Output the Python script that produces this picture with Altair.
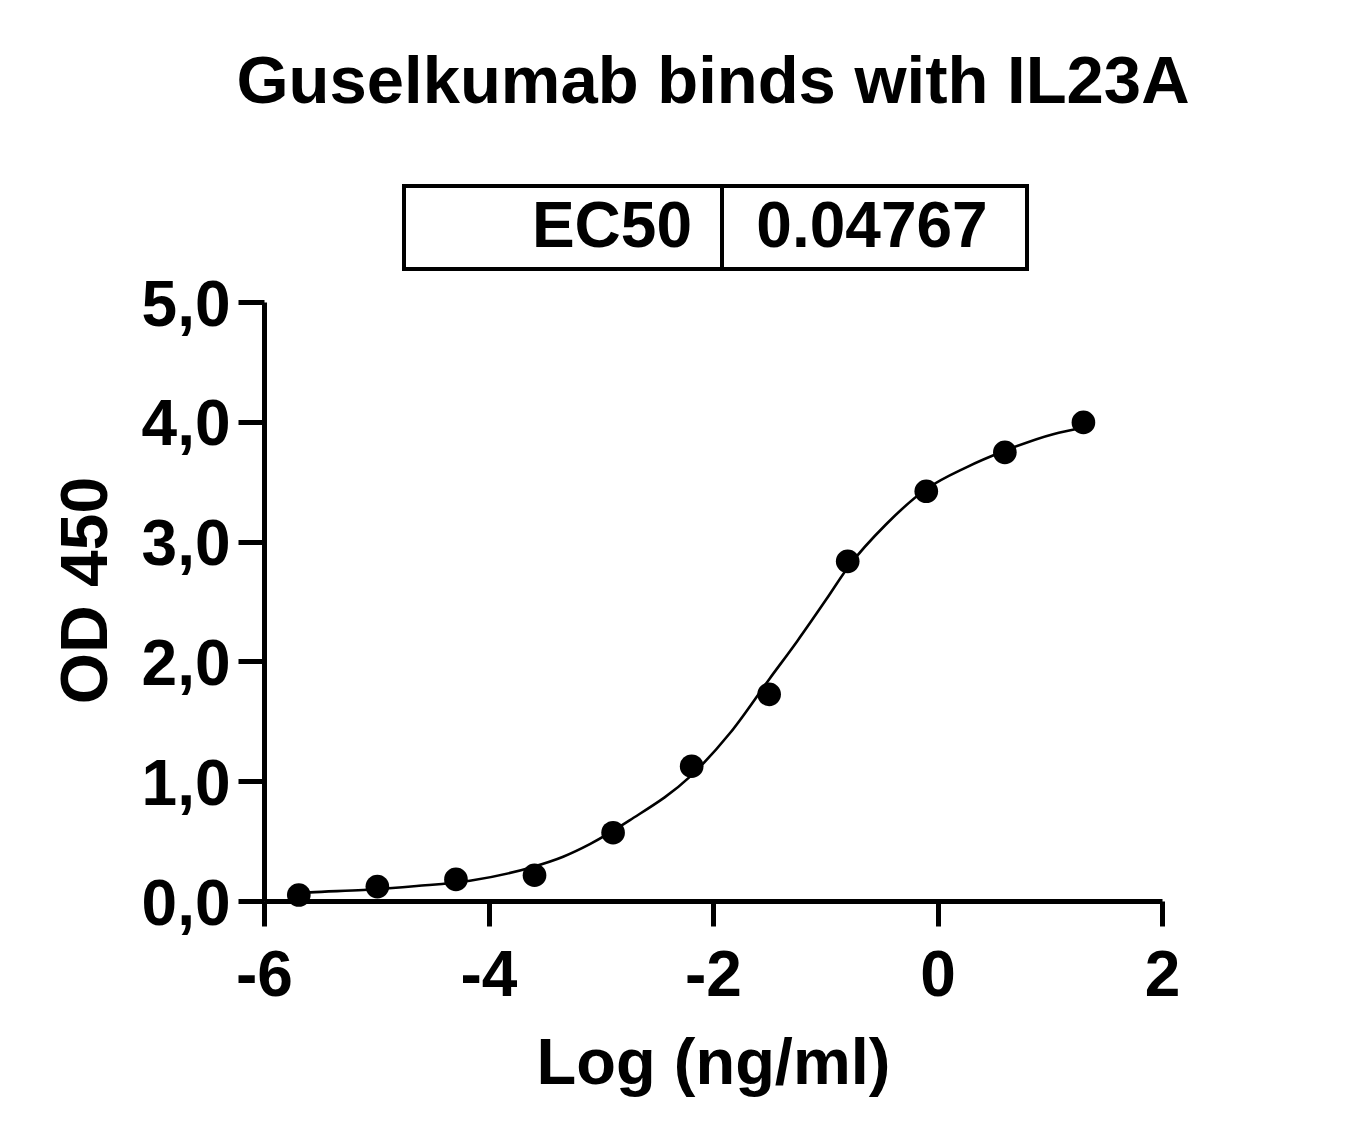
import altair as alt
import pandas as pd

# ---- data ----
log_conc = [-5.69, -4.99, -4.29, -3.59, -2.89, -2.19, -1.50, -0.80, -0.10, 0.60, 1.30]
od450 = [0.05, 0.12, 0.18, 0.215, 0.57, 1.125, 1.725, 2.835, 3.42, 3.745, 3.995]

curve_x = [-5.69, -5.59, -5.116, -4.64, -4.166, -3.63, -3.335, -3.097, -2.74, -2.207,
           -1.85, -1.494, -1.245, -0.989, -0.797, -0.455, -0.099, 0.257, 0.599, 1.03, 1.30]
curve_y = [0.066, 0.072, 0.092, 0.125, 0.169, 0.278, 0.37, 0.475, 0.675, 1.036,
           1.40, 1.858, 2.175, 2.52, 2.786, 3.147, 3.439, 3.62, 3.758, 3.897, 3.95]

x_ticks = [-6, -4, -2, 0, 2]
y_ticks = [0, 1, 2, 3, 4, 5]

title_text = "Guselkumab binds with IL23A"
ec50_label = "EC50"
ec50_value = "0.04767"

FONT = "Liberation Sans"

pts = pd.DataFrame({"x": log_conc, "y": od450})
crv = pd.DataFrame({"x": curve_x, "y": curve_y})
one = pd.DataFrame({"a": [0]})

xscale = alt.Scale(domain=[-6, 2], nice=False, zero=False)
yscale = alt.Scale(domain=[0, 5], nice=False, zero=False)

xaxis = alt.Axis(
    title="Log (ng/ml)", values=x_ticks, grid=False,
    labelExpr="datum.value < 0 ? '-' + toString(abs(datum.value)) : toString(datum.value)",
    labelFont=FONT, labelFontSize=64, labelFontWeight="bold", labelColor="black",
    labelPadding=18, labelFlush=False,
    tickSize=25, tickWidth=5, tickColor="black",
    domainWidth=5, domainColor="black",
    titleFont=FONT, titleFontSize=65, titleFontWeight="bold", titleColor="black",
    titleBaseline="top", titleY=131,
)
yaxis = alt.Axis(
    title="OD 450", values=y_ticks, grid=False,
    labelExpr="replace(format(datum.value, '.1f'), '.', ',')",
    labelFont=FONT, labelFontSize=64, labelFontWeight="bold", labelColor="black",
    labelPadding=8, labelOffset=4, labelFlush=False,
    tickSize=26, tickWidth=5, tickColor="black",
    domainWidth=5, domainColor="black",
    titleFont=FONT, titleFontSize=66, titleFontWeight="bold", titleColor="black",
    titleBaseline="bottom", titleX=-144, titleY=288,
)

curve = alt.Chart(crv).mark_line(color="black", strokeWidth=2.6, interpolate="monotone").encode(
    x=alt.X("x:Q", scale=xscale, axis=xaxis),
    y=alt.Y("y:Q", scale=yscale, axis=yaxis),
)
points = alt.Chart(pts).mark_circle(size=560, color="black", opacity=1).encode(
    x=alt.X("x:Q", scale=xscale),
    y=alt.Y("y:Q", scale=yscale),
)

title = alt.Chart(one).mark_text(
    text=title_text, font=FONT, fontSize=67, fontWeight="bold", color="black",
    align="center", baseline="alphabetic",
).encode(x=alt.value(449), y=alt.value(-199))

box = alt.Chart(one).mark_rect(fillOpacity=0, stroke="black", strokeWidth=4).encode(
    x=alt.value(140), x2=alt.value(763), y=alt.value(-116), y2=alt.value(-33)
)
divider = alt.Chart(one).mark_rule(color="black", strokeWidth=4).encode(
    x=alt.value(458), y=alt.value(-116), y2=alt.value(-33)
)
lab = alt.Chart(one).mark_text(
    text=ec50_label, font=FONT, fontSize=64, fontWeight="bold", color="black",
    align="right", baseline="alphabetic",
).encode(x=alt.value(428), y=alt.value(-55))
val = alt.Chart(one).mark_text(
    text=ec50_value, font=FONT, fontSize=64, fontWeight="bold", color="black",
    align="center", baseline="alphabetic",
).encode(x=alt.value(608), y=alt.value(-55))

chart = alt.layer(curve, points, title, box, divider, lab, val).properties(
    width=898, height=599,
    autosize=alt.AutoSizeParams(type="none"),
    padding={"left": 256, "top": 294, "right": 150, "bottom": 200},
    background="white",
).configure_view(stroke=None)

chart.save("out.html", embed_options={"renderer": "svg", "actions": False})
